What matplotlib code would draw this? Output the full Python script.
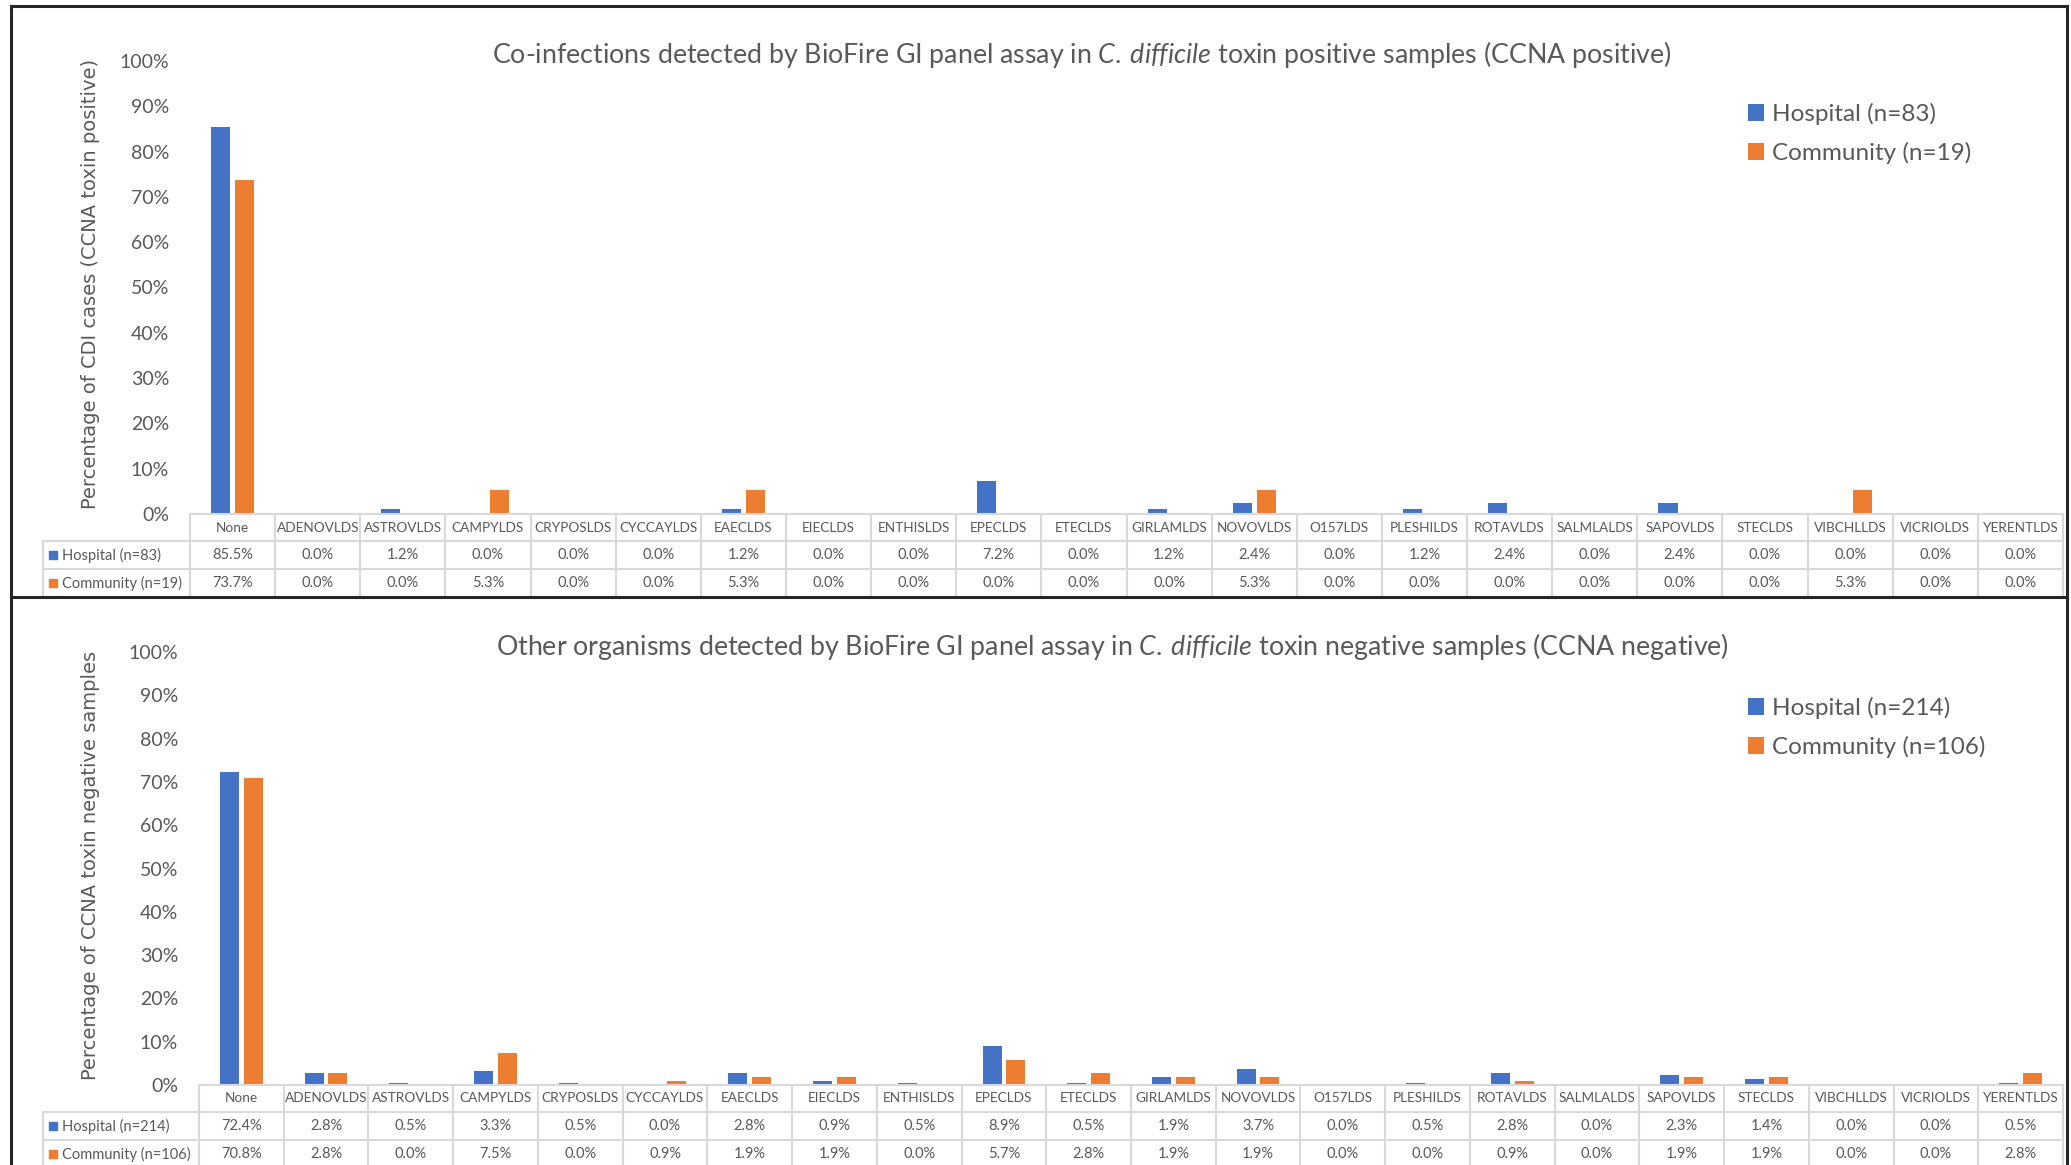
import numpy as np
import matplotlib
matplotlib.use("Agg")
import matplotlib.pyplot as plt
import matplotlib.transforms as mtransforms
from matplotlib.patches import Rectangle
from matplotlib.ticker import FuncFormatter, MultipleLocator

# -- Data --

categories = ["None", "ADENOVLDS", "ASTROVLDS", "CAMPYLDS", "CRYPOSLDS",
              "CYCCAYLDS", "EAECLDS", "EIECLDS", "ENTHISLDS", "EPECLDS",
              "ETECLDS", "GIRLAMLDS", "NOVOVLDS", "O157LDS", "PLESHILDS",
              "ROTAVLDS", "SALMLALDS", "SAPOVLDS", "STECLDS", "VIBCHLLDS",
              "VICRIOLDS", "YERENTLDS"]

hospital_pos = [85.5, 0.0, 1.2, 0.0, 0.0, 0.0, 1.2, 0.0, 0.0, 7.2, 0.0,
                1.2, 2.4, 0.0, 1.2, 2.4, 0.0, 2.4, 0.0, 0.0, 0.0, 0.0]
community_pos = [73.7, 0.0, 0.0, 5.3, 0.0, 0.0, 5.3, 0.0, 0.0, 0.0, 0.0,
                 0.0, 5.3, 0.0, 0.0, 0.0, 0.0, 0.0, 0.0, 5.3, 0.0, 0.0]

hospital_neg = [72.4, 2.8, 0.5, 3.3, 0.5, 0.0, 2.8, 0.9, 0.5, 8.9, 0.5,
                1.9, 3.7, 0.0, 0.5, 2.8, 0.0, 2.3, 1.4, 0.0, 0.0, 0.5]
community_neg = [70.8, 2.8, 0.0, 7.5, 0.0, 0.9, 1.9, 1.9, 0.0, 5.7, 2.8,
                 1.9, 1.9, 0.0, 0.0, 0.9, 0.0, 1.9, 1.9, 0.0, 0.0, 2.8]

labels_pos = ["Hospital (n=83)", "Community (n=19)"]
labels_neg = ["Hospital (n=214)", "Community (n=106)"]

title_pos = (r"Co-infections detected by BioFire GI panel assay in "
             r"$\mathit{C.\:difficile}$ toxin positive samples (CCNA positive)")
title_neg = (r"Other organisms detected by BioFire GI panel assay in "
             r"$\mathit{C.\:difficile}$ toxin negative samples (CCNA negative)")
ylabel_pos = "Percentage of CDI cases (CCNA toxin positive)"
ylabel_neg = "Percentage of CCNA toxin negative samples"

BLUE = "#4472C4"
ORANGE = "#ED7D31"
TEXT = "#595959"
GRID = "#D9D9D9"

# -- Figure setup (pixel based layout) --

W, H = 2071, 1165
plt.rcParams["font.family"] = ["Lato", "DejaVu Sans"]
plt.rcParams["mathtext.fontset"] = "custom"
plt.rcParams["mathtext.rm"] = "Lato"
plt.rcParams["mathtext.it"] = "Lato:italic"

fig = plt.figure(figsize=(W / 100, H / 100), dpi=100)
over = fig.add_axes([0, 0, 1, 1], zorder=2)
over.set_xlim(0, W)
over.set_ylim(H, 0)
over.axis("off")

TABLE_LEFT = 43
TABLE_RIGHT = 2063


def panel(top_y, base_y, left_x, hosp, comm, labels, title, title_x, title_y,
          ylabel, ylabel_y, leg_y):
    ax = fig.add_axes([left_x / W, 1 - base_y / H,
                       (TABLE_RIGHT - left_x) / W, (base_y - top_y) / H],
                      zorder=1)
    x = np.arange(len(categories))
    b1 = ax.bar(x - 0.14, hosp, 0.225, color=BLUE)
    b2 = ax.bar(x + 0.14, comm, 0.225, color=ORANGE)
    ax.set_xlim(-0.5, len(categories) - 0.5)
    ax.set_ylim(0, 100)
    ax.yaxis.set_major_locator(MultipleLocator(10))
    ax.yaxis.set_major_formatter(FuncFormatter(lambda v, p: f"{v:.0f}%"))
    ax.tick_params(axis="y", length=0, pad=15, labelsize=14, labelcolor=TEXT)
    ax.set_xticks([])
    for s in ax.spines.values():
        s.set_visible(False)
    ax.patch.set_alpha(0)

    # data table below the axis
    tr = mtransforms.blended_transform_factory(ax.transData, over.transData)
    rows = [base_y, base_y + 27, base_y + 55, base_y + 83]
    over.plot([left_x, TABLE_RIGHT], [rows[0]] * 2, color=GRID, lw=1.5)
    for r in rows[1:]:
        over.plot([TABLE_LEFT, TABLE_RIGHT], [r] * 2, color=GRID, lw=1.5)
    over.plot([TABLE_LEFT] * 2, [rows[1], rows[3]], color=GRID, lw=1.5)
    for i in range(len(categories) + 1):
        over.plot([i - 0.5] * 2, [rows[0], rows[3]], color=GRID, lw=1.5,
                  transform=tr)
    for i, cat in enumerate(categories):
        over.text(i, (rows[0] + rows[1]) / 2, cat, ha="center", va="center",
                  fontsize=9.8, color=TEXT, transform=tr)
        over.text(i, (rows[1] + rows[2]) / 2, f"{hosp[i]:.1f}%", ha="center",
                  va="center", fontsize=10.5, color=TEXT, transform=tr)
        over.text(i, (rows[2] + rows[3]) / 2, f"{comm[i]:.1f}%", ha="center",
                  va="center", fontsize=10.5, color=TEXT, transform=tr)
    for k, (lab, col) in enumerate(zip(labels, [BLUE, ORANGE])):
        yc = (rows[k + 1] + rows[k + 2]) / 2
        over.add_patch(Rectangle((49, yc - 4), 8, 8, color=col))
        over.text(62, yc, lab, ha="left", va="center", fontsize=10.5,
                  color=TEXT)

    over.text(title_x, title_y, title, ha="center", va="center",
              fontsize=19.3, color=TEXT)
    over.text(91, ylabel_y, ylabel, rotation=90, ha="center", va="center",
              fontsize=14, color=TEXT, family="DejaVu Sans")

    ax.legend([b1, b2], labels, loc="upper left",
              bbox_to_anchor=(1748 / W, 1 - (leg_y - 9) / H),
              bbox_transform=fig.transFigure, frameon=False, fontsize=17.5,
              handlelength=0.65, handleheight=0.65, handletextpad=0.35,
              labelspacing=0.69, borderpad=0, borderaxespad=0,
              labelcolor=TEXT)
    return ax


panel(61, 514, 190, hospital_pos, community_pos, labels_pos, title_pos,
      1082, 55, ylabel_pos, 284, 112)
panel(652, 1085, 199, hospital_neg, community_neg, labels_neg, title_neg,
      1112, 647, ylabel_neg, 865, 706)

# panel borders
BORDER = "#262626"
over.plot([11, 2067], [6, 6], color=BORDER, lw=2.2)
over.plot([11, 2067], [597, 597], color=BORDER, lw=2.2)
over.plot([11, 11], [6, H], color=BORDER, lw=2.2)
over.plot([2067, 2067], [6, H], color=BORDER, lw=2.2)

fig.savefig("out.png", dpi=100)
